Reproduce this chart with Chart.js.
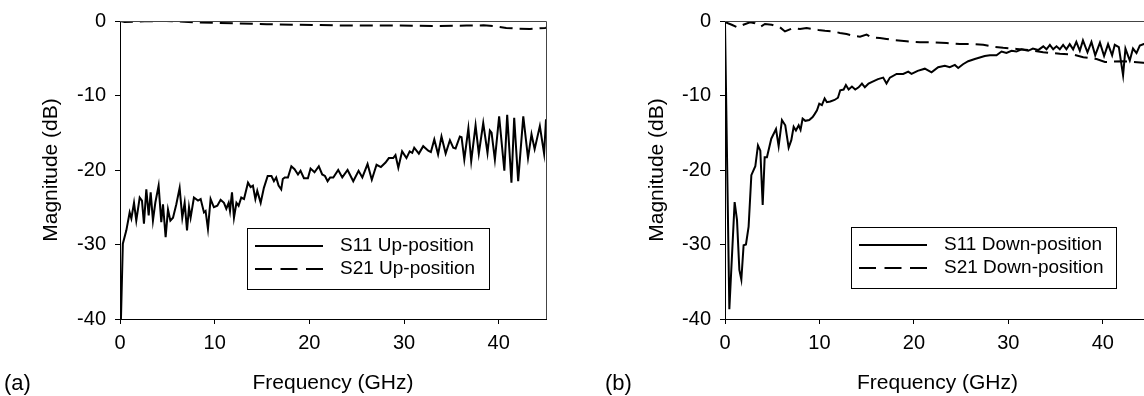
<!DOCTYPE html>
<html><head><meta charset="utf-8">
<script src="https://cdn.jsdelivr.net/npm/chart.js@4"></script>
<style>
html,body{margin:0;padding:0;background:#fff;overflow:hidden;width:1144px;height:396px;}
#wrap{position:relative;width:1144px;height:396px;overflow:hidden;background:#fff;}
canvas{position:absolute;top:0;}
#ca{left:0}
#cb{left:572px}
</style></head><body>
<div id="wrap"><canvas id="ca" width="572" height="396"></canvas><canvas id="cb" width="600" height="396"></canvas></div>
<script>
// ---------- data (frequency in GHz, magnitude in dB) ----------
const xTickValues = [0, 10, 20, 30, 40];
const yTickValues = [-40, -30, -20, -10, 0];

const freqS11Up = [0.1,0.3,0.67,1.02,1.2,1.48,1.72,2.08,2.32,2.53,2.78,3.03,3.24,3.48,3.73,4.08,4.36,4.54,4.82,5.07,5.32,5.6,5.95,6.3,6.58,6.83,7.08,7.29,7.46,7.81,8.24,8.52,8.87,9.04,9.29,9.57,9.92,10.28,10.63,10.98,11.23,11.48,11.62,11.83,12.04,12.3,12.53,12.81,13.1,13.52,13.8,14.04,14.3,14.5,14.86,15.2,15.6,16.0,16.26,16.5,16.75,17.03,17.2,17.4,17.74,18.1,18.44,18.8,19.07,19.43,19.85,20.13,20.55,21.0,21.36,21.65,21.93,22.2,22.53,23.05,23.48,24.04,24.64,25.2,25.6,26.15,26.6,27.1,27.56,28.05,28.4,28.86,29.1,29.4,29.8,30.26,30.6,30.87,31.08,31.57,32.03,32.56,32.84,33.2,33.6,33.96,34.4,34.85,35.2,35.45,35.9,36.08,36.37,36.8,37.1,37.56,37.9,38.37,38.82,39.07,39.25,39.6,40.05,40.6,40.9,41.35,41.64,42.06,42.6,43.1,43.47,43.8,44.35,44.8,45.0];
const s11Up = [-40,-29.9,-28.1,-25.7,-26.5,-24.4,-26.8,-23.7,-24.1,-27.2,-22.6,-26.1,-23.0,-26.8,-24.4,-22.1,-27.0,-24.6,-29.0,-25.3,-26.8,-26.4,-24.6,-22.4,-26.4,-24.4,-28.1,-25.0,-26.4,-23.7,-24.1,-23.9,-25.7,-25.5,-27.9,-23.9,-25.0,-24.8,-24.0,-24.4,-25.2,-24.4,-25.5,-23.0,-26.4,-24.4,-24.8,-23.7,-23.9,-21.7,-22.3,-22.1,-23.9,-22.8,-24.4,-22.4,-20.8,-20.8,-21.5,-21.0,-22.1,-22.6,-21.2,-21.0,-21.0,-19.5,-19.9,-20.6,-20.1,-21.1,-21.1,-19.8,-20.3,-19.5,-20.6,-20.8,-21.5,-21.0,-21.0,-20.0,-21.0,-20.0,-21.5,-20.1,-21.0,-19.2,-21.3,-19.3,-19.6,-19.0,-18.4,-18.4,-18.0,-19.7,-17.5,-18.4,-17.5,-17.7,-17.0,-17.8,-16.8,-17.4,-17.6,-15.9,-17.9,-15.5,-17.8,-16.0,-17.0,-17.1,-15.5,-15.6,-18.6,-14.4,-18.8,-14.0,-17.8,-13.7,-17.7,-14.7,-15.0,-18.6,-12.8,-20.1,-12.6,-21.7,-13.0,-21.5,-12.8,-18.4,-15.2,-17.2,-14.1,-17.8,-13.2];

const freqS21Up = [0,0.5,1.5,2.6,4.9,8.4,12,15.5,19,22.5,26,29.6,33,36.6,38.4,39.7,40.8,41.9,43.3,44.9,45];
const s21Up = [0,-0.15,-0.1,-0.05,0,-0.2,-0.3,-0.44,-0.5,-0.58,-0.62,-0.62,-0.67,-0.62,-0.58,-0.71,-0.93,-1.02,-1.07,-0.93,-0.9];

const freqS11Down = [0,0.46,1.02,1.27,1.52,1.73,1.97,2.22,2.5,2.79,3.21,3.49,3.74,3.99,4.2,4.44,4.9,5.4,5.68,6.03,6.38,6.74,7.02,7.27,7.51,7.8,8.0,8.22,8.5,8.92,9.28,9.49,9.74,9.98,10.26,10.55,10.79,11.15,11.6,11.96,12.2,12.56,12.8,13.09,13.44,13.79,14.15,14.5,14.81,15.2,15.52,16.2,16.75,17.1,17.46,18.17,18.87,19.4,19.75,20.4,21.16,21.87,22.57,23.28,23.8,24.34,24.69,25.2,25.75,26.45,26.98,27.5,28.05,28.75,29.28,29.8,30.34,30.86,31.4,32.1,32.6,33.16,33.7,34.04,34.4,34.75,35.1,35.45,35.8,36.15,36.5,36.86,37.2,37.57,37.9,38.38,38.8,39.2,39.7,40.14,40.56,40.99,41.27,41.7,42.15,42.4,42.86,43.2,43.57,43.92,44.35,45];
const s11Down = [-0.3,-38.7,-24.3,-26.7,-33.4,-34.7,-30.1,-30.0,-27.6,-20.7,-19.5,-16.7,-17.4,-24.7,-18.3,-18.3,-15.8,-14.5,-16.8,-13.3,-14.0,-17.0,-16.0,-14.2,-14.7,-14.0,-14.6,-13.1,-13.4,-13.3,-12.9,-12.5,-12.0,-11.1,-11.3,-10.4,-10.9,-10.8,-10.6,-10.3,-9.3,-9.2,-8.6,-9.2,-8.8,-9.2,-8.9,-8.4,-8.9,-8.4,-8.2,-7.8,-7.6,-8.4,-7.6,-7.1,-7.1,-6.8,-7.1,-6.7,-6.4,-6.9,-6.2,-6.0,-6.2,-5.9,-6.3,-5.8,-5.4,-5.1,-4.9,-4.7,-4.6,-4.6,-4.1,-4.3,-4.0,-4.1,-3.8,-4.0,-3.7,-3.9,-3.4,-3.8,-3.2,-3.8,-3.4,-3.8,-3.2,-3.8,-3.1,-3.8,-2.8,-4.0,-2.6,-4.2,-2.8,-4.6,-2.9,-4.7,-3.1,-4.6,-3.2,-3.5,-7.3,-3.7,-5.3,-3.7,-4.3,-3.3,-3.1,-3.0];

const freqS21Down = [0,0.1,0.71,1.31,1.94,2.65,3.17,3.77,4.23,4.94,5.82,6.35,7.23,7.94,8.64,9.28,9.88,10.58,11.46,12.17,12.87,13.58,14.29,14.99,15.52,16.4,17.1,17.8,19.23,20.64,22.05,23.46,24.87,26.28,27.34,28.4,29.45,30.87,32.28,33.69,35.45,36.87,37.93,39.34,40.23,41.1,42.16,43.22,44.28,45];
const s21Down = [0,-0.18,-0.5,-0.85,-0.5,-0.18,-0.3,-0.76,-0.4,-0.5,-0.85,-1.4,-0.94,-1.07,-0.94,-1.07,-1.2,-1.3,-1.4,-1.6,-1.75,-2.0,-2.1,-1.83,-2.2,-2.28,-2.41,-2.55,-2.72,-2.86,-2.86,-2.95,-3.1,-3.1,-3.2,-3.45,-3.6,-3.75,-3.9,-4.2,-4.4,-4.5,-4.87,-5.1,-5.5,-5.45,-5.4,-5.5,-5.6,-5.7];

// ---------- rendering ----------
const FONT = "'Liberation Sans', Arial, Helvetica, sans-serif";
function pts(xs, ys) {
  const n = Math.min(xs.length, ys.length), out = [];
  for (let i = 0; i < n; i++) out.push({x: xs[i], y: ys[i]});
  return out;
}

const annot = {
  id: 'annot',
  afterDraw(chart, args, o) {
    const ctx = chart.ctx, ca = chart.chartArea;
    ctx.save();
    ctx.strokeStyle = '#444'; ctx.lineWidth = 1; ctx.setLineDash([]);
    ctx.beginPath();
    ctx.moveTo(ca.left, Math.round(ca.top) + 0.5);
    ctx.lineTo(Math.round(ca.right) + 0.5, Math.round(ca.top) + 0.5);
    ctx.lineTo(Math.round(ca.right) + 0.5, ca.bottom);
    ctx.stroke();
    const bx = Math.round(ca.left + o.boxDx), by = Math.round(ca.top + o.boxDy);
    ctx.fillStyle = '#fff';
    ctx.fillRect(bx, by, o.boxW, o.boxH);
    ctx.strokeStyle = '#000';
    ctx.strokeRect(bx + 0.5, by + 0.5, o.boxW, o.boxH);
    ctx.font = o.legendFont + 'px ' + FONT;
    ctx.fillStyle = '#000';
    ctx.textBaseline = 'middle';
    ctx.textAlign = 'left';
    chart.data.datasets.forEach((ds, i) => {
      const y = by + o.row0 + i * o.rowGap;
      ctx.setLineDash(ds.borderDash && ds.borderDash.length ? o.legendDash : []);
      ctx.lineWidth = ds.borderWidth;
      ctx.strokeStyle = ds.borderColor;
      ctx.beginPath(); ctx.moveTo(bx + o.lineX0, y); ctx.lineTo(bx + o.lineX1, y); ctx.stroke();
      ctx.setLineDash([]);
      ctx.fillText(ds.label, bx + o.textX, y);
    });
    ctx.font = o.tagFont + 'px ' + FONT;
    ctx.fillText(o.tag, o.tagX, o.tagY);
    ctx.restore();
  }
};

function makeChart(id, sets, p) {
  const tickFont = {family: FONT, size: 20};
  const titleFont = {family: FONT, size: 21};
  return new Chart(document.getElementById(id), {
    type: 'line',
    data: {datasets: sets},
    plugins: [annot],
    options: {
      responsive: false,
      animation: false,
      devicePixelRatio: 1,
      layout: {padding: p.padding},
      elements: {point: {radius: 0}, line: {tension: 0}},
      plugins: {legend: {display: false}, tooltip: {enabled: false}, annot: p.annot},
      scales: {
        x: {
          type: 'linear', min: 0, max: 45,
          afterBuildTicks: s => { s.ticks = xTickValues.map(v => ({value: v})); },
          afterFit: s => { s.height = p.xHeight; },
          ticks: {color: '#000', font: tickFont, padding: 7, maxRotation: 0, callback: v => String(v)},
          grid: {drawOnChartArea: false, drawTicks: true, tickLength: 5, color: '#000'},
          border: {display: true, color: '#000', width: 1},
          title: {display: true, text: 'Frequency (GHz)', color: '#000', font: titleFont, padding: {top: 0, bottom: p.xTitlePad}}
        },
        y: {
          type: 'linear', min: -40, max: 0,
          afterBuildTicks: s => { s.ticks = yTickValues.map(v => ({value: v})); },
          afterFit: s => { s.width = p.yWidth; },
          ticks: {color: '#000', font: tickFont, padding: 9, callback: v => String(v)},
          grid: {drawOnChartArea: false, drawTicks: true, tickLength: 5, color: '#000'},
          border: {display: true, color: '#000', width: 1},
          title: {display: true, text: 'Magnitude (dB)', color: '#000', font: titleFont, padding: {top: p.yTitlePad, bottom: 0}}
        }
      }
    }
  });
}

makeChart('ca', [
  {label: 'S11 Up-position', data: pts(freqS11Up, s11Up), borderColor: '#000', borderWidth: 2, fill: false},
  {label: 'S21 Up-position', data: pts(freqS21Up, s21Up), borderColor: '#000', borderWidth: 2, borderDash: [13, 7], fill: false}
], {
  padding: {left: 0, right: 26, top: 19, bottom: 0},
  xHeight: 77, yWidth: 120, xTitlePad: 0, yTitlePad: 39,
  annot: {boxDx: 127, boxDy: 207, boxW: 242, boxH: 61, row0: 18, rowGap: 23, lineX0: 8, lineX1: 76, textX: 93, legendDash: [17, 8.5], legendFont: 19, tag: '(a)', tagX: 4, tagY: 384, tagFont: 22}
});

makeChart('cb', [
  {label: 'S11 Down-position', data: pts(freqS11Down, s11Down), borderColor: '#000', borderWidth: 2, fill: false},
  {label: 'S21 Down-position', data: pts(freqS21Down, s21Down), borderColor: '#000', borderWidth: 2, borderDash: [13, 7], fill: false}
], {
  padding: {left: 0, right: 22, top: 20, bottom: 0},
  xHeight: 77, yWidth: 153, xTitlePad: 0, yTitlePad: 73,
  annot: {boxDx: 126, boxDy: 206, boxW: 265, boxH: 61, row0: 18, rowGap: 23, lineX0: 8, lineX1: 76, textX: 93, legendDash: [17, 8.5], legendFont: 19, tag: '(b)', tagX: 33, tagY: 384, tagFont: 22}
});
</script>
</body></html>
